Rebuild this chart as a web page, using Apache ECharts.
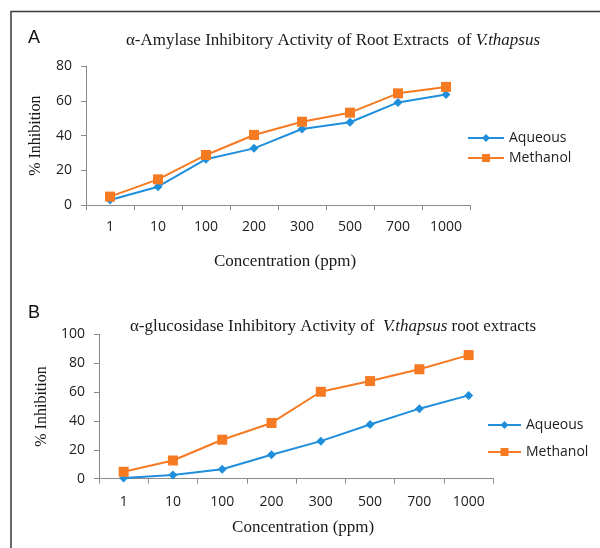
<!DOCTYPE html>
<html>
<head>
<meta charset="utf-8">
<script src="https://cdn.jsdelivr.net/npm/echarts@6/dist/echarts.min.js"></script>
<style>
html,body{margin:0;padding:0;background:#fff;}
#c{width:600px;height:548px;}
</style>
</head>
<body>
<div id="c"></div>
<script>
var categories = ['1', '10', '100', '200', '300', '500', '700', '1000'];
var amylaseAqueous = [3, 10.7, 26.5, 32.7, 43.8, 47.7, 59.1, 63.6];
var amylaseMethanol = [5, 14.9, 28.9, 40.4, 48, 53.2, 64.3, 68];
var glucosidaseAqueous = [0.5, 2.5, 6.5, 16.6, 26, 37.5, 48.5, 57.7];
var glucosidaseMethanol = [4.8, 12.6, 27, 38.6, 60.2, 67.6, 75.8, 85.6];
var yTicksA = {min: 0, max: 80, interval: 20};
var yTicksB = {min: 0, max: 100, interval: 20};

var BLUE = '#1f8fdb';
var ORANGE = '#f67a22';
var AXIS = '#8a8a8a';
var SANS = 'Open Sans';
var SERIF = 'Liberation Serif';

function xAxis(idx, gap, margin) {
  return {
    type: 'category', gridIndex: idx, data: categories, boundaryGap: true,
    axisLine: {lineStyle: {color: AXIS, width: 1}},
    axisTick: {show: true, alignWithLabel: false, length: 5, lineStyle: {color: AXIS}},
    axisLabel: {interval: 0, margin: margin, color: '#222', fontFamily: SANS, fontSize: 14},
    name: 'Concentration (ppm)', nameLocation: 'middle', nameGap: gap,
    nameTextStyle: {fontFamily: SERIF, fontSize: 17, color: '#1a1a1a', padding: [0, 0, 0, 14]},
    splitLine: {show: false}
  };
}
function yAxis(idx, t, gap) {
  return {
    type: 'value', gridIndex: idx, min: t.min, max: t.max, interval: t.interval,
    axisLine: {show: true, lineStyle: {color: AXIS, width: 1}},
    axisTick: {show: true, length: 5, lineStyle: {color: AXIS}},
    axisLabel: {margin: 14, color: '#222', fontFamily: SANS, fontSize: 14},
    name: '% Inhibition', nameLocation: 'middle', nameGap: gap, nameRotate: 90,
    nameTextStyle: {fontFamily: SERIF, fontSize: 16, color: '#1a1a1a'},
    splitLine: {show: false}
  };
}
function series(name, idx, data, color, symbol, size) {
  return {
    name: name, type: 'line', xAxisIndex: idx, yAxisIndex: idx, data: data,
    symbol: symbol, symbolSize: size, showSymbol: true,
    lineStyle: {color: color, width: 2},
    itemStyle: {color: color},
    animation: false
  };
}
var richTitle = {
  n: {fontFamily: SERIF, fontSize: 17, fontWeight: 'normal', color: '#1a1a1a'},
  i: {fontFamily: SERIF, fontSize: 17, fontWeight: 'normal', fontStyle: 'italic', color: '#1a1a1a'}
};

var chart = echarts.init(document.getElementById('c'), null, {renderer: 'canvas'});
chart.setOption({
  animation: false,
  backgroundColor: '#fff',
  title: [
    {
      text: '{n|α-Amylase Inhibitory Activity of Root Extracts  of }{i|V.thapsus}',
      left: 328, top: 27, textAlign: 'center',
      textStyle: {fontWeight: 'normal', rich: richTitle}
    },
    {
      text: '{n|α-glucosidase Inhibitory Activity of  }{i|V.thapsus}{n| root extracts}',
      left: 328, top: 313, textAlign: 'center',
      textStyle: {fontWeight: 'normal', rich: richTitle}
    }
  ],
  legend: [
    {
      orient: 'vertical', left: 462, top: 126, itemWidth: 36, itemHeight: 10, itemGap: 6,
      data: ['Aqueous', 'Methanol'],
      textStyle: {fontFamily: SANS, fontSize: 14, color: '#222'}, selectedMode: false
    },
    {
      orient: 'vertical', left: 482, top: 413, itemWidth: 33, itemHeight: 10, itemGap: 13,
      data: ['Aqueous', 'Methanol'],
      textStyle: {fontFamily: SANS, fontSize: 14, color: '#222'}, selectedMode: false
    }
  ],
  grid: [
    {left: 86, top: 66, width: 384, height: 139.3},
    {left: 99, top: 334.3, width: 394.3, height: 144.4}
  ],
  xAxis: [xAxis(0, 48, 15), xAxis(1, 40, 16)],
  yAxis: [yAxis(0, yTicksA, 42), yAxis(1, yTicksB, 46)],
  series: [
    series('Aqueous', 0, amylaseAqueous, BLUE, 'diamond', 9),
    series('Methanol', 0, amylaseMethanol, ORANGE, 'rect', 10),
    series('Aqueous', 1, glucosidaseAqueous, BLUE, 'diamond', 9),
    series('Methanol', 1, glucosidaseMethanol, ORANGE, 'rect', 10)
  ],
  graphic: [
    {type: 'polyline', shape: {points: [[11, 548], [11, 11.5], [600, 11.5]]},
     style: {stroke: '#3a3a3a', lineWidth: 1.5, fill: null}},
    {type: 'text', left: 28, top: 29, style: {text: 'A', fontFamily: 'Liberation Sans', fontSize: 18, fill: '#111'}},
    {type: 'text', left: 28, top: 304, style: {text: 'B', fontFamily: 'Liberation Sans', fontSize: 18, fill: '#111'}}
  ]
});
</script>
</body>
</html>
